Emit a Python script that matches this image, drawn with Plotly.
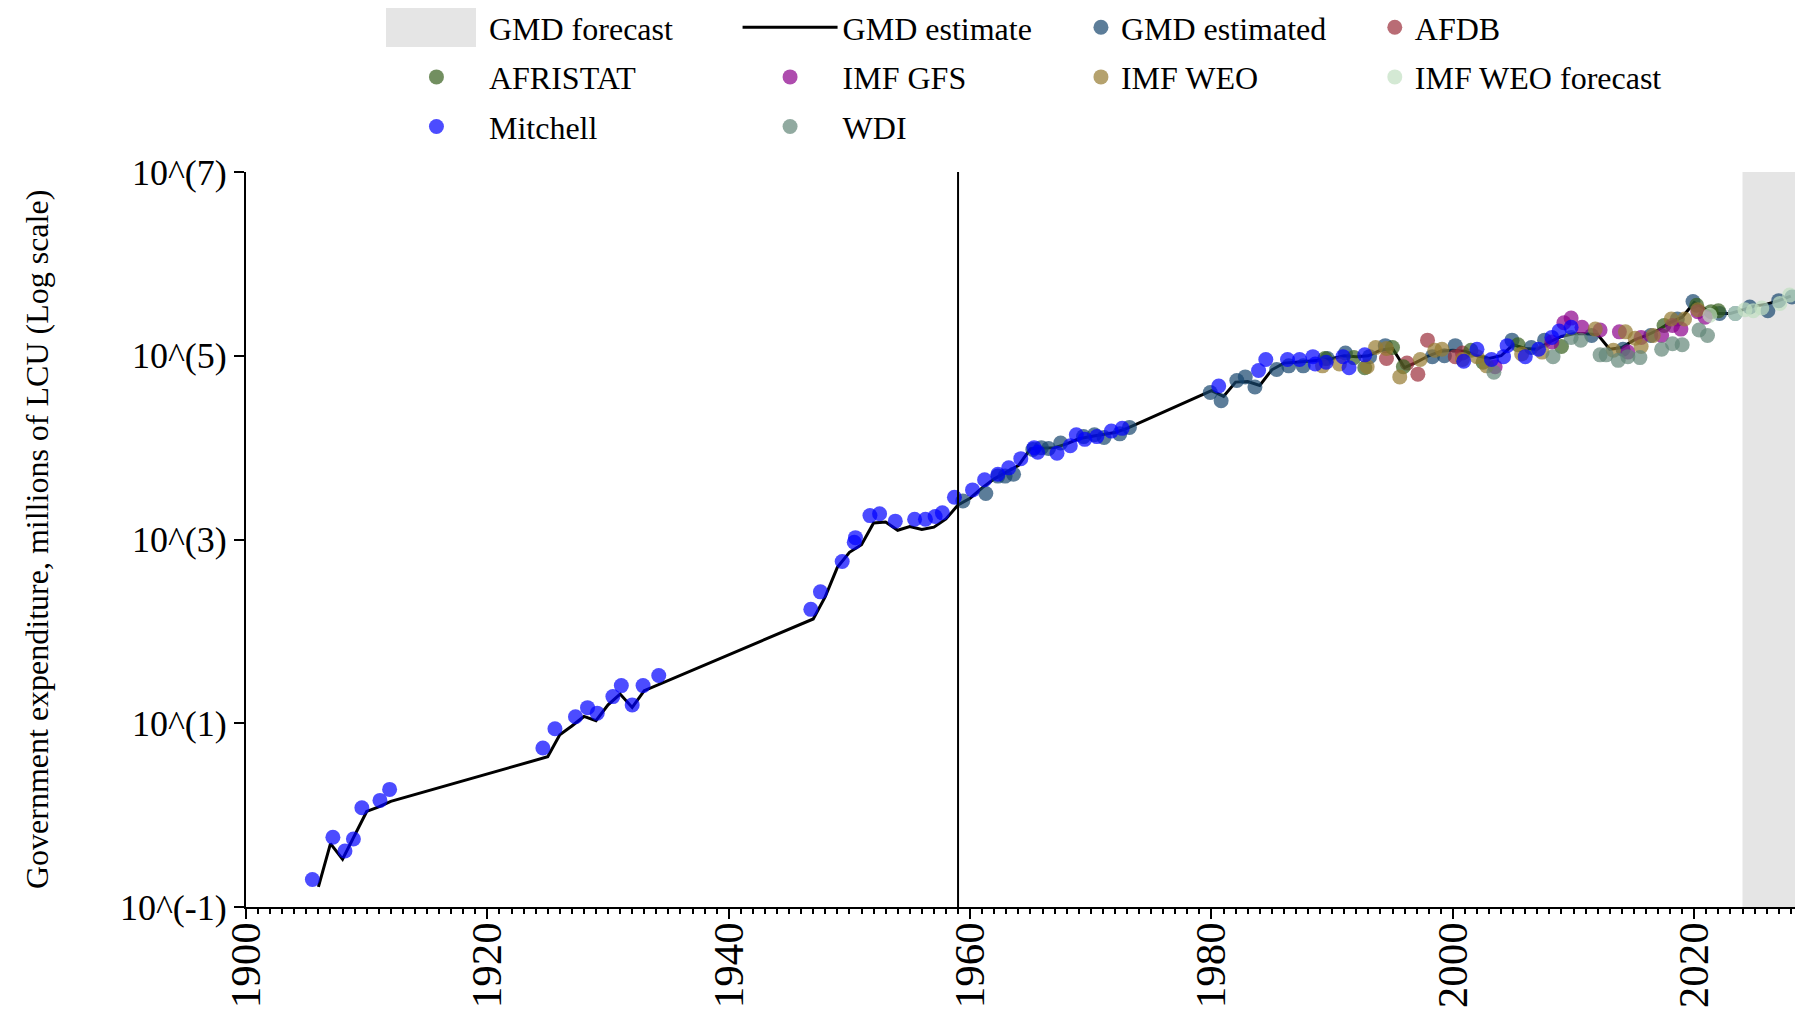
import numpy as np
import plotly.graph_objects as go

FONT = "Liberation Serif, Times New Roman, serif"

# ---------------- data (values stored as log10 of millions of LCU) ----------------
gmd_line_years = [1906, 1907, 1908, 1909, 1910, 1911, 1912,
                  1925, 1926, 1927, 1928, 1929, 1930, 1931, 1932, 1933,
                  1947, 1948, 1949, 1950, 1951, 1952, 1953, 1954, 1955, 1956, 1957, 1958,
                  1959, 1960, 1961, 1962, 1963, 1964, 1965, 1966, 1967, 1968, 1969, 1970,
                  1971, 1972, 1973,
                  1980, 1981, 1982, 1983, 1984, 1985, 1986, 1987, 1988, 1989, 1990,
                  1991, 1992, 1993, 1994, 1995, 1996, 1997, 1998, 1999, 2000,
                  2001, 2002, 2003, 2004, 2005, 2006, 2007, 2008, 2009, 2010,
                  2011, 2012, 2013, 2014, 2015, 2016, 2017, 2018, 2019, 2020,
                  2021, 2022, 2023, 2024, 2025, 2026, 2027, 2028]
gmd_line_log10 = [-0.78, -0.31, -0.48, -0.22, 0.04, 0.09, 0.15,
                  0.635, 0.875, 0.97, 1.074, 1.027, 1.20, 1.318, 1.172, 1.354,
                  2.135, 2.378, 2.697, 2.861, 2.944, 3.18, 3.19, 3.10, 3.14, 3.108, 3.134, 3.224,
                  3.376, 3.449, 3.562, 3.66, 3.73, 3.805, 3.987, 3.99, 4.00, 4.04, 4.096, 4.12,
                  4.14, 4.165, 4.21,
                  4.62, 4.557, 4.713, 4.72, 4.676, 4.847, 4.92, 4.93, 4.94, 4.95, 4.97,
                  5.00, 4.99, 5.00, 5.06, 5.08, 4.87, 4.93, 5.00, 5.05, 5.06,
                  5.05, 5.00, 4.97, 5.00, 5.12, 5.08, 5.07, 5.15, 5.21, 5.24,
                  5.24, 5.23, 5.07, 5.09, 5.17, 5.22, 5.28, 5.36, 5.42, 5.58,
                  5.50, 5.46, 5.46, 5.50, 5.54, 5.56, 5.60, 5.65]

gmd_est_x = [1959.4, 1961.3, 1962.3, 1962.9, 1963.6, 1965.2, 1965.9, 1966.5, 1967.5, 1969.4,
             1970.3, 1971.1, 1972.4, 1973.2,
             1979.9, 1980.8, 1982.1, 1982.8, 1983.6, 1985.4, 1986.4, 1987.6, 1989.6, 1991.1,
             1993.1, 1994.4,
             1998.3, 1999.3, 2000.2, 2004.9, 2006.5, 2007.6, 2011.5, 2014.1, 2016.4, 2018.6, 2019.9,
             2022.1, 2023.4, 2024.6, 2026.1, 2027.0, 2028.1]
gmd_est_log10 = [3.42, 3.50, 3.69, 3.69, 3.71, 3.98, 4.00, 3.99, 4.05, 4.12,
                 4.14, 4.11, 4.15, 4.22,
                 4.60, 4.51, 4.73, 4.77, 4.66, 4.85, 4.89, 4.89, 4.97, 5.03,
                 4.99, 5.11,
                 4.99, 5.00, 5.11, 5.17, 5.09, 5.17, 5.22, 5.07, 5.22, 5.40, 5.59,
                 5.46, 5.46, 5.53, 5.49, 5.60, 5.64]

afdb_x = [1994.5, 1996.2, 1997.1, 1997.9, 2000.2, 2000.8]
afdb_log10 = [4.97, 4.92, 4.80, 5.17, 4.99, 5.03]

afristat_x = [1989.4, 1991.8, 1992.7, 1995.0, 1995.9, 2001.5, 2002.5, 2005.4, 2009.0,
              2017.5, 2020.2, 2021.4, 2022.0]
afristat_log10 = [4.97, 4.98, 4.87, 5.09, 4.88, 5.06, 4.93, 5.12, 5.10,
                  5.33, 5.55, 5.48, 5.49]

imf_gfs_x = [2003.5, 2008.2, 2009.2, 2009.8, 2010.7, 2012.2, 2013.8, 2014.5, 2015.6,
             2017.3, 2018.2, 2018.9, 2020.3, 2020.9]
imf_gfs_log10 = [4.88, 5.15, 5.36, 5.41, 5.31, 5.28, 5.26, 5.04, 5.20,
                 5.22, 5.33, 5.29, 5.48, 5.42]

imf_weo_x = [1989.2, 1990.6, 1992.9, 1993.6, 1994.5, 1995.6, 1997.3, 1998.5, 1999.1, 2000.8,
             2002.0, 2002.8, 2005.7, 2007.4, 2011.8, 2013.3, 2014.3, 2015.1, 2015.6, 2016.6,
             2018.1, 2019.2, 2020.3]
imf_weo_log10 = [4.89, 4.91, 4.88, 5.09, 5.08, 4.77, 4.96, 5.06, 5.07, 4.96,
                 4.99, 4.89, 5.02, 5.04, 5.29, 5.06, 5.26, 5.19, 5.10, 5.22,
                 5.40, 5.40, 5.50]

imf_weo_fc_x = [2021.3, 2023.4, 2024.2, 2024.9, 2025.6, 2027.1, 2027.9]
imf_weo_fc_log10 = [5.44, 5.46, 5.50, 5.49, 5.52, 5.57, 5.66]

mitchell_x = [1905.5, 1907.2, 1908.2, 1908.9, 1909.6, 1911.1, 1911.9,
              1924.6, 1925.6, 1927.3, 1928.3, 1929.1, 1930.4, 1931.1, 1932.0, 1932.9, 1934.2,
              1946.8, 1947.6, 1949.4, 1950.4, 1950.5, 1951.7, 1952.5, 1953.8, 1955.4, 1956.3,
              1957.1, 1957.7, 1958.7,
              1960.2, 1961.2, 1962.3, 1963.2, 1964.2, 1965.3, 1965.6, 1967.2, 1968.3, 1968.8,
              1969.5, 1970.5, 1971.7, 1972.6,
              1980.6, 1983.9, 1984.5, 1986.3, 1987.3, 1988.4, 1988.6, 1989.5, 1990.9, 1991.4,
              1992.7,
              2000.9, 2002.0, 2003.2, 2004.2, 2004.5, 2006.0, 2007.1, 2008.2, 2008.8, 2009.8]
mitchell_log10 = [-0.70, -0.24, -0.39, -0.26, 0.08, 0.16, 0.28,
                  0.73, 0.94, 1.07, 1.17, 1.11, 1.29, 1.41, 1.20, 1.41, 1.52,
                  2.24, 2.43, 2.76, 2.97, 3.02, 3.26, 3.28, 3.20, 3.22, 3.22,
                  3.25, 3.29, 3.46,
                  3.54, 3.65, 3.71, 3.78, 3.88, 4.00, 3.95, 3.94, 4.02, 4.14,
                  4.09, 4.12, 4.18, 4.21,
                  4.67, 4.84, 4.96, 4.96, 4.96, 4.99, 4.91, 4.93, 4.99, 4.87,
                  5.01,
                  4.94, 5.07, 4.96, 4.99, 5.11, 4.99, 5.07, 5.20, 5.27, 5.31]

wdi_x = [2003.4, 2008.3, 2009.8, 2010.6, 2012.2, 2012.7, 2013.7, 2014.5, 2015.5,
         2017.3, 2018.2, 2019.0, 2020.4, 2021.1]
wdi_log10 = [4.82, 4.99, 5.20, 5.17, 5.01, 5.01, 4.95, 4.99, 4.98,
             5.07, 5.13, 5.12, 5.28, 5.22]

forecast_start = 2024
forecast_end = 2030
reference_year = 1959

x_range = [1900, 2028.35]
y_tick_exponents = [-1, 1, 3, 5, 7]
y_tick_labels = ["10^(-1)", "10^(1)", "10^(3)", "10^(5)", "10^(7)"]

FORECAST_COLOR = "#e5e5e5"


def lv(a):
    return 10 ** np.array(a, dtype=float)


fig = go.Figure()

# forecast shading (shape, with its own legend entry)
fig.add_shape(type="rect", xref="x", yref="y domain",
              x0=forecast_start, x1=forecast_end, y0=0, y1=1,
              fillcolor=FORECAST_COLOR, line=dict(width=0), layer="below",
              showlegend=True, name="GMD forecast", legend="legend",
              legendgroup="g1", legendrank=1)
# larger legend swatch for the forecast entry (legend decoration)
fig.add_shape(type="rect", xref="paper", yref="paper",
              x0=0.0904, x1=0.1485, y0=1.170, y1=1.2231,
              fillcolor=FORECAST_COLOR, line=dict(width=0), layer="above")

# GMD estimate line
fig.add_trace(go.Scatter(
    x=gmd_line_years, y=lv(gmd_line_log10), mode="lines",
    line=dict(color="black", width=3), name="GMD estimate",
    legend="legend2", legendgroup="g2", legendrank=1))

MS = 15
OP = 0.7


def pts(x, y, name, color, legend, group, rank):
    fig.add_trace(go.Scatter(
        x=x, y=lv(y), mode="markers", name=name,
        marker=dict(color=color, size=MS, opacity=OP, line=dict(width=0)),
        legend=legend, legendgroup=group, legendrank=rank))


pts(gmd_est_x, gmd_est_log10, "GMD estimated", "#17466e", "legend3", "g3", 1)
pts(afdb_x, afdb_log10, "AFDB", "#9b2d3a", "legend4", "g4", 1)
pts(afristat_x, afristat_log10, "AFRISTAT", "#365f1c", "legend", "g5", 2)
pts(imf_gfs_x, imf_gfs_log10, "IMF GFS", "#8b008b", "legend2", "g6", 2)
pts(imf_weo_x, imf_weo_log10, "IMF WEO", "#957a30", "legend3", "g7", 2)
pts(imf_weo_fc_x, imf_weo_fc_log10, "IMF WEO forecast", "#c2e0c2", "legend4", "g8", 2)
pts(wdi_x, wdi_log10, "WDI", "#628678", "legend2", "g10", 3)
pts(mitchell_x, mitchell_log10, "Mitchell", "#0000ff", "legend", "g9", 3)

fig.add_vline(x=reference_year, line=dict(color="black", width=2))

leg_common = dict(font=dict(family=FONT, size=32, color="black"),
                  bgcolor="rgba(0,0,0,0)", borderwidth=0, orientation="v",
                  xanchor="left", yanchor="top", y=1.0,
                  xref="container", yref="container",
                  traceorder="grouped", tracegroupgap=5)

fig.add_annotation(text="Government expenditure, millions of LCU (Log scale)",
                   xref="paper", yref="paper", x=-0.1352, y=0.5,
                   xanchor="center", yanchor="middle", textangle=-90, showarrow=False,
                   font=dict(family=FONT, size=32, color="black"))

fig.update_layout(
    width=1795, height=1010,
    paper_bgcolor="white", plot_bgcolor="white",
    margin=dict(l=246, r=0, t=172, b=103, autoexpand=False),
    font=dict(family=FONT, color="black"),
    legend=dict(x=0.2139, itemwidth=95, **leg_common),
    legend2=dict(x=0.4109, itemwidth=95, **leg_common),
    legend3=dict(x=0.6022, **leg_common),
    legend4=dict(x=0.7659, **leg_common),
    xaxis=dict(range=x_range, showgrid=False, zeroline=False, automargin=False,
               showline=True, linecolor="black", linewidth=2,
               ticks="outside", ticklen=10, tickwidth=2, tickcolor="black",
               tick0=1900, dtick=20, tickangle=-90, ticklabelstandoff=-14,
               tickfont=dict(family=FONT, size=43, color="black"),
               minor=dict(dtick=1, ticks="outside", ticklen=5, tickwidth=1.5, tickcolor="black")),
    yaxis=dict(type="log", range=[y_tick_exponents[0], y_tick_exponents[-1]],
               showgrid=False, zeroline=False, automargin=False,
               showline=True, linecolor="black", linewidth=2,
               ticks="outside", ticklen=10, tickwidth=2, tickcolor="black",
               tickvals=[10 ** e for e in y_tick_exponents], ticktext=y_tick_labels,
               tickfont=dict(family=FONT, size=36, color="black")),
)

fig.write_html("out.html",
               config={"displayModeBar": False},
               post_script="document.body.style.margin='0';document.body.style.overflow='hidden';")
